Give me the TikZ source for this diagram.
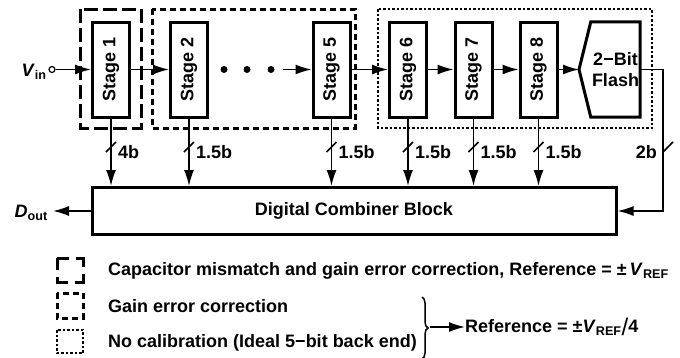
\documentclass[tikz,border=0pt]{standalone}
\usepackage{fontspec}
\setmainfont{Liberation Sans}
\usepackage{graphicx}
\usetikzlibrary{arrows.meta, positioning, calc, decorations.pathreplacing}
\tikzstyle{stage} = [rectangle, draw=black, line width=3pt, minimum width=37pt, minimum height=95pt, inner sep=0pt]
\tikzstyle{arrow} = [line width=1.5pt, -{Latex[length=16pt,width=10pt]}]
\tikzstyle{wire} = [line width=1.5pt]
\tikzstyle{bits} = [inner sep=0pt, anchor=west]
\tikzstyle{legend} = [inner sep=0pt, anchor=west]
\tikzstyle{dot} = [circle, fill=black, minimum size=7pt, inner sep=0pt]

\begin{document}
\begin{tikzpicture}[x=1pt, y=-1pt, font=\bfseries\fontsize{18}{21}\selectfont]
    \useasboundingbox (0,0) rectangle (680,357);

    % Calibration groups
    \draw[line width=3pt, dash pattern=on 14pt off 5pt] (80,9) rectangle (141,128);
    \draw[line width=3pt, dash pattern=on 6pt off 4pt] (152,9) rectangle (355,128);
    \draw[line width=1.5pt, dash pattern=on 2.5pt off 2pt] (378,9) rectangle (652,128);

    % Pipeline stages
    \node[stage] (s1) at (111,69.5) {\rotatebox{90}{Stage 1}};
    \node[stage] (s2) at (189,69.5) {\rotatebox{90}{Stage 2}};
    \node[stage] (s5) at (331.5,69.5) {\rotatebox{90}{Stage 5}};
    \node[stage] (s6) at (408,69.5) {\rotatebox{90}{Stage 6}};
    \node[stage] (s7) at (473.5,69.5) {\rotatebox{90}{Stage 7}};
    \node[stage] (s8) at (538.5,69.5) {\rotatebox{90}{Stage 8}};

    % Back-end flash
    \node[minimum width=49pt, minimum height=95pt, inner sep=0pt, align=center] (flash) at (615.5,69.5) {2−Bit\\Flash};
    \coordinate (ftip) at (579,69.5);
    \draw[line width=3pt, line join=miter] (flash.north west) -- (flash.north east) -- (flash.south east) -- (flash.south west) -- (ftip) -- cycle;

    % Dots
    \node[dot] (d1) at (224,69.5) {};
    \node[dot] (d2) at (247,69.5) {};
    \node[dot] (d3) at (271,69.5) {};
    \coordinate (d4) at (283,69.5);

    % Input
    \node (vin) at (34,72) {\textit{V}\textsubscript{in}};
    \node[circle, draw, line width=1.2pt, minimum size=6pt, inner sep=0pt] (vinpin) at (52,69.5) {};
    \draw[arrow] (vinpin) -- (s1.west);

    % Combiner
    \node[draw, line width=3pt, minimum width=524pt, minimum height=47pt] (comb) at (354,211) {Digital Combiner Block};
    \coordinate (dout) at (53,211);
    \node[anchor=east, inner sep=0pt] (doutlbl) at (48,213) {\textit{D}\textsubscript{out}};

    % Connections
    \draw[arrow] (s1) -- (s2);
    \draw[arrow] (d4) -- (s5);
    \draw[arrow] (s5) -- (s6);
    \draw[arrow] (s6) -- (s7);
    \draw[arrow] (s7) -- (s8);
    \draw[arrow] (s8) -- (ftip);
    \draw[arrow] (comb.west) -- (dout);
    \foreach \s/\b in {s1/4b, s2/1.5b, s5/1.5b, s6/1.5b, s7/1.5b, s8/1.5b} {
        \draw[arrow] (\s.south) -- (\s.south |- comb.north);
        \draw[wire] (\s.south |- 0,147) ++(-5,5) -- ++(10,-10);
        \node[bits, right=7pt] at (\s.south |- 0,152) {\b};
    }
    \coordinate (c2b) at (663,0);
    \draw[arrow] (flash.east) -- (flash.east -| c2b) -- (c2b |- comb.east) -- (comb.east);
    \draw[wire] (663,152) -- ++(10,-10);
    \node[inner sep=0pt, anchor=east] at (657,152) {2b};

    % Legend
    \draw[line width=3pt, dash pattern=on 16pt off 7pt, dash phase=4pt] (57,258) rectangle (83,282);
    \draw[line width=3pt, dash pattern=on 6pt off 4pt] (57,293) rectangle (83,318);
    \draw[line width=1.2pt, dash pattern=on 2.5pt off 2pt] (57,330) rectangle (83,353);
    \node[legend] (l1) at (108,271) {Capacitor mismatch and gain error correction, Reference = ±\,\textit{V}\textsubscript{REF}};
    \node[legend] (l2) at (108,306) {Gain error correction};
    \node[legend] (l3) at (108,343) {No calibration (Ideal 5−bit back end)};
    \draw[line width=1.5pt, decorate, decoration={brace, amplitude=6pt}] (422,297) -- (422,359);
    \coordinate (btip) at (430,327);
    \node[legend] (ref4) at (465,327) {Reference = ±\textit{V}\textsubscript{REF}\raisebox{-3pt}{\fontsize{24}{24}\mdseries/}4};
    \draw[arrow] (btip) -- (ref4.west);
\end{tikzpicture}
\end{document}
